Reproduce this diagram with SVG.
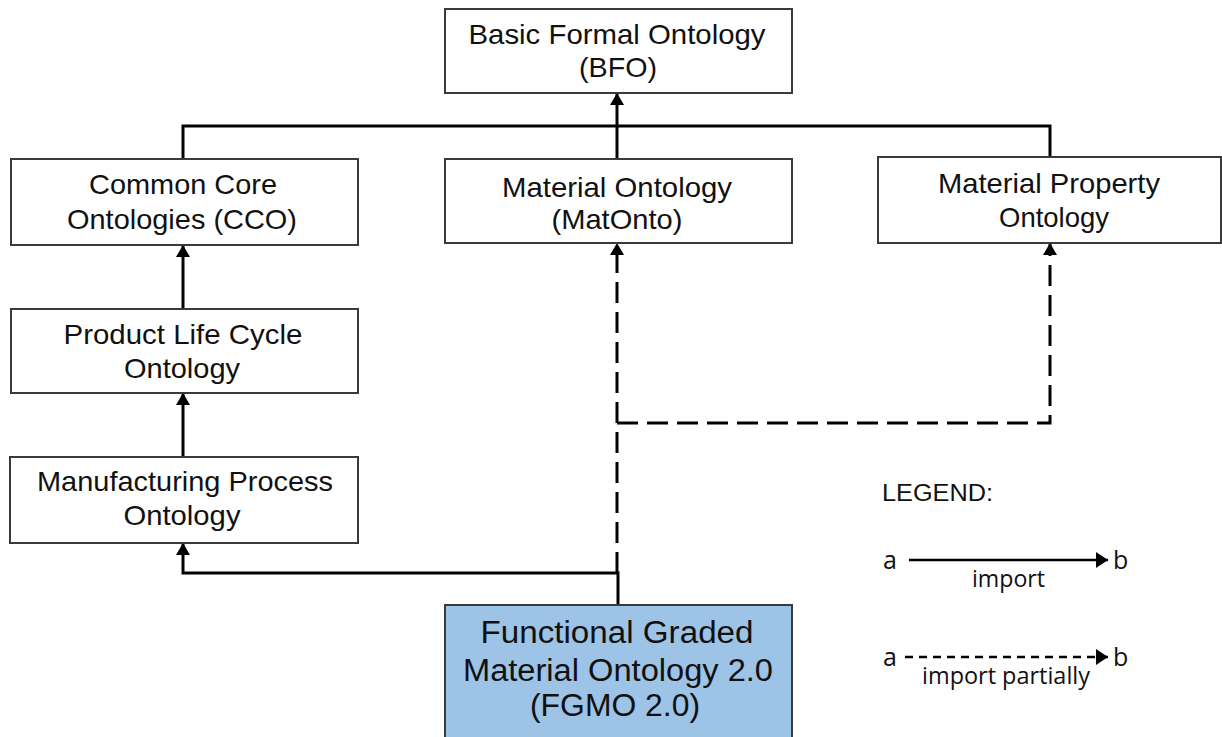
<svg xmlns="http://www.w3.org/2000/svg" width="1222" height="737" viewBox="0 0 1222 737">
<style>
.box{fill:#ffffff;stroke:#3a3a3a;stroke-width:2}
.fg{fill:#9dc3e6;stroke:#3a3a3a;stroke-width:2}
.t{font-family:"Liberation Sans",Arial,sans-serif;font-size:28px;fill:#111;text-anchor:middle}
.tb{font-family:"Liberation Sans",Arial,sans-serif;font-size:31px;fill:#111;text-anchor:middle}
.lg{font-family:"Liberation Sans",Arial,sans-serif;font-size:23px;fill:#111}
.ls{font-family:"Open Sans","Noto Sans",sans-serif;font-size:25px;fill:#111}
.li{font-family:"Open Sans","Noto Sans",sans-serif;font-size:23px;fill:#111}
.c{fill:none;stroke:#000;stroke-width:3}
.d{fill:none;stroke:#000;stroke-width:3;stroke-dasharray:21 9}
.lc{fill:none;stroke:#000;stroke-width:2.5}
.ld{fill:none;stroke:#000;stroke-width:2.5;stroke-dasharray:8 6}
</style>
<defs>
<marker id="ah" viewBox="0 0 12 14" refX="12" refY="7" markerWidth="12" markerHeight="14" markerUnits="userSpaceOnUse" orient="auto">
<path d="M0,0 L12,7 L0,14 z" fill="#000"/>
</marker>
<marker id="al" viewBox="0 0 12 16" refX="12" refY="8" markerWidth="12" markerHeight="16" markerUnits="userSpaceOnUse" orient="auto">
<path d="M0,0 L12,8 L0,16 z" fill="#000"/>
</marker>
</defs>
<g id="connectors">
<path class="c" d="M183,159 V126 H1050 V157"/>
<path class="c" d="M617,159 V93" marker-end="url(#ah)"/>
<path class="c" d="M183,309 V245" marker-end="url(#ah)"/>
<path class="c" d="M183,457 V393" marker-end="url(#ah)"/>
<path class="c" d="M618,605 V573 H183 V543" marker-end="url(#ah)"/>
<path class="d" d="M617,573 V243" marker-end="url(#ah)"/>
<path class="d" d="M617,423 H1050 V243" marker-end="url(#ah)"/>
</g>
<g id="bfo">
<rect class="box" x="445" y="9" width="347" height="84"/>
<text class="t" x="617" y="44" textLength="297" lengthAdjust="spacingAndGlyphs">Basic Formal Ontology</text>
<text class="t" x="618" y="77" textLength="78" lengthAdjust="spacingAndGlyphs">(BFO)</text>
</g>
<g id="cco">
<rect class="box" x="11" y="159" width="347" height="86"/>
<text class="t" x="183" y="194" textLength="188" lengthAdjust="spacingAndGlyphs">Common Core</text>
<text class="t" x="182" y="229" textLength="230" lengthAdjust="spacingAndGlyphs">Ontologies (CCO)</text>
</g>
<g id="matonto">
<rect class="box" x="445" y="159" width="347" height="84"/>
<text class="t" x="617" y="197" textLength="230" lengthAdjust="spacingAndGlyphs">Material Ontology</text>
<text class="t" x="617" y="229" textLength="131" lengthAdjust="spacingAndGlyphs">(MatOnto)</text>
</g>
<g id="mpro">
<rect class="box" x="878" y="157" width="343" height="86"/>
<text class="t" x="1049" y="193" textLength="222" lengthAdjust="spacingAndGlyphs">Material Property</text>
<text class="t" x="1054" y="227" textLength="110" lengthAdjust="spacingAndGlyphs">Ontology</text>
</g>
<g id="plc">
<rect class="box" x="11" y="309" width="347" height="84"/>
<text class="t" x="183" y="344" textLength="239" lengthAdjust="spacingAndGlyphs">Product Life Cycle</text>
<text class="t" x="182" y="378" textLength="116" lengthAdjust="spacingAndGlyphs">Ontology</text>
</g>
<g id="mpo">
<rect class="box" x="10" y="457" width="348" height="86"/>
<text class="t" x="185" y="491" textLength="296" lengthAdjust="spacingAndGlyphs">Manufacturing Process</text>
<text class="t" x="182" y="525" textLength="117" lengthAdjust="spacingAndGlyphs">Ontology</text>
</g>
<g id="fgmo">
<rect class="fg" x="445" y="605" width="347" height="140"/>
<text class="tb" x="617" y="643" textLength="273" lengthAdjust="spacingAndGlyphs">Functional Graded</text>
<text class="tb" x="618" y="681" textLength="310" lengthAdjust="spacingAndGlyphs">Material Ontology 2.0</text>
<text class="tb" x="615" y="716" textLength="170" lengthAdjust="spacingAndGlyphs">(FGMO 2.0)</text>
</g>
<g id="legend">
<text class="lg" x="882" y="501" textLength="111" lengthAdjust="spacingAndGlyphs">LEGEND:</text>
<text class="ls" x="883" y="569">a</text>
<path class="lc" d="M909,560 H1108" marker-end="url(#al)"/>
<text class="ls" x="1113" y="569">b</text>
<text class="li" x="972" y="587" textLength="73" lengthAdjust="spacingAndGlyphs">import</text>
<text class="ls" x="883" y="666">a</text>
<path class="ld" d="M905,657 H1108" marker-end="url(#al)"/>
<text class="ls" x="1113" y="666">b</text>
<text class="li" x="922" y="684" textLength="168" lengthAdjust="spacingAndGlyphs">import partially</text>
</g>
</svg>
